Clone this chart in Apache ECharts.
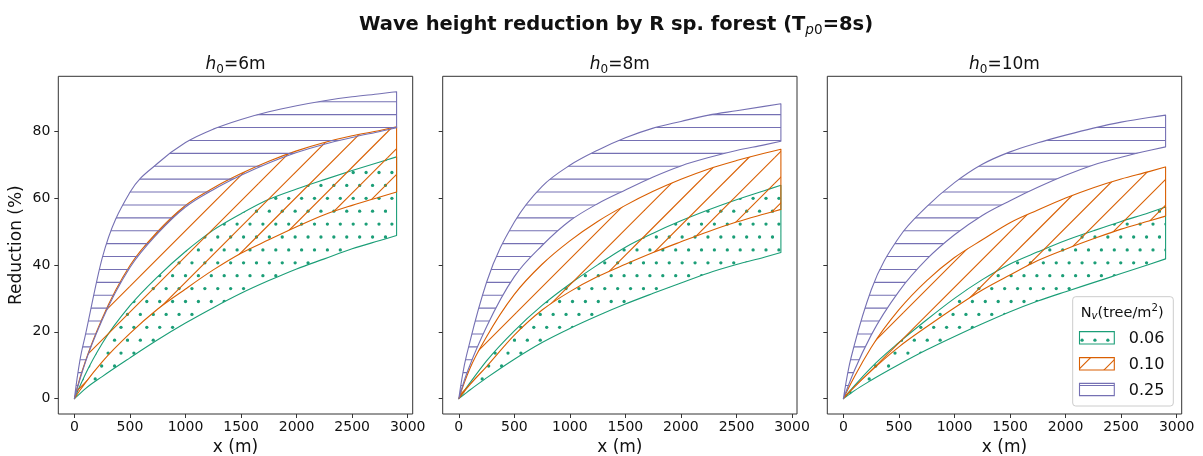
<!DOCTYPE html>
<html>
<head>
<meta charset="utf-8">
<script src="https://cdn.jsdelivr.net/npm/echarts@6/dist/echarts.min.js"></script>
<style>
  html, body { margin: 0; padding: 0; background: #ffffff; }
  #chart { width: 1203px; height: 456px; }
</style>
</head>
<body>
<div id="chart"></div>
<script>
// Distance into the forest (m) at which every curve is sampled
const xPositions = [0, 50, 100, 250, 500, 750, 1000, 1250, 1500, 1750, 2000, 2250, 2500, 2750, 2900];

// Tick labels
const xTicks = [0, 500, 1000, 1500, 2000, 2500, 3000];
const yTicks = [0, 20, 40, 60, 80];

// Legend entries (tree density, tree/m2) and panel water depths (m)
const densities = ['0.06', '0.10', '0.25'];
const depths = ['6', '8', '10'];

// Reduction (%) envelopes, h0 = 6 m
const h6_nv006_low = [0, 1.5, 3.0, 6.6, 12.2, 17.6, 22.6, 27.2, 31.5, 35.3, 38.8, 41.8, 44.8, 47.3, 48.8];
const h6_nv006_up  = [0, 3.8, 7.4, 16.5, 27.8, 36.5, 44.0, 50.4, 55.3, 59.6, 62.7, 65.5, 68.2, 70.8, 72.3];
const h6_nv010_low = [0, 2.5, 4.8, 11.0, 19.5, 26.8, 32.8, 38.5, 43.5, 47.5, 51.4, 55.0, 57.8, 60.3, 61.8];
const h6_nv010_up  = [0, 6.2, 11.3, 24.0, 39.8, 50.0, 57.8, 63.0, 67.3, 71.0, 74.1, 76.6, 78.6, 80.2, 81.3];
const h6_nv025_low = [0, 5.8, 11.0, 23.5, 39.2, 49.4, 57.3, 62.5, 66.8, 70.5, 73.6, 76.1, 78.1, 79.9, 81.0];
const h6_nv025_up  = [0, 11.5, 19.2, 42.0, 61.7, 70.4, 76.6, 80.6, 83.5, 85.8, 87.6, 89.1, 90.3, 91.2, 91.8];

// Reduction (%) envelopes, h0 = 8 m
const h8_nv006_low = [0, 1.3, 2.6, 6.2, 11.8, 16.8, 21.0, 24.8, 28.3, 31.5, 34.6, 37.6, 40.1, 42.3, 43.7];
const h8_nv006_up  = [0, 2.4, 4.7, 11.3, 20.3, 27.9, 34.3, 40.0, 45.3, 49.5, 53.2, 56.5, 59.5, 62.2, 63.8];
const h8_nv010_low = [0, 2.2, 4.2, 9.6, 19.0, 26.5, 32.0, 36.5, 40.2, 43.7, 46.9, 50.0, 52.8, 55.2, 56.6];
const h8_nv010_up  = [0, 4.8, 9.0, 18.5, 31.2, 40.2, 47.2, 53.0, 57.8, 62.0, 65.6, 68.7, 71.2, 73.4, 74.6];
const h8_nv025_low = [0, 5.5, 10.0, 21.5, 36.5, 45.8, 53.2, 58.3, 62.4, 66.3, 69.6, 72.1, 74.2, 75.9, 77.0];
const h8_nv025_up  = [0, 10.0, 17.0, 34.8, 52.8, 63.5, 69.8, 74.3, 78.0, 80.9, 82.9, 84.8, 86.1, 87.4, 88.2];

// Reduction (%) envelopes, h0 = 10 m
const h10_nv006_low = [0, 1.2, 2.4, 5.5, 10.2, 14.6, 18.6, 22.4, 26.0, 29.2, 32.0, 34.7, 37.4, 40.1, 41.8];
const h10_nv006_up  = [0, 2.0, 3.9, 9.3, 16.8, 23.6, 30.0, 35.6, 40.3, 43.9, 47.3, 50.2, 53.0, 55.6, 57.3];
const h10_nv010_low = [0, 1.8, 3.5, 8.3, 15.5, 21.5, 27.2, 32.5, 37.0, 41.3, 44.7, 47.8, 50.7, 53.1, 54.6];
const h10_nv010_up  = [0, 3.4, 6.6, 15.3, 26.6, 35.3, 42.2, 47.5, 52.6, 56.4, 60.0, 63.1, 65.7, 67.9, 69.3];
const h10_nv025_low = [0, 4.4, 8.5, 19.0, 32.1, 41.7, 49.0, 54.8, 59.2, 63.2, 66.8, 69.9, 72.2, 74.2, 75.3];
const h10_nv025_up  = [0, 9.5, 16.2, 32.5, 48.2, 57.4, 64.6, 70.1, 73.8, 76.5, 78.8, 80.9, 82.7, 84.1, 84.8];

const panels = [
  [[h6_nv006_low, h6_nv006_up], [h6_nv010_low, h6_nv010_up], [h6_nv025_low, h6_nv025_up]],
  [[h8_nv006_low, h8_nv006_up], [h8_nv010_low, h8_nv010_up], [h8_nv025_low, h8_nv025_up]],
  [[h10_nv006_low, h10_nv006_up], [h10_nv010_low, h10_nv010_up], [h10_nv025_low, h10_nv025_up]]
];

// ---- styling ----
const FONT = 'DejaVu Sans';
const TEXT = '#111111';
const SPINE = '#333333';
const bandColors = ['#1b9e77', '#d95f02', '#7570b3'];
const hatchKinds = ['dots', 'diag', 'horiz'];

// Hatch textures: one 129px tile holds 10 repeats of a 12.9px hatch step,
// so the pattern stays continuous across all panels.
function makeHatch(kind, color) {
  const S = 129, step = 12.9;
  const cv = document.createElement('canvas');
  cv.width = S; cv.height = S;
  const g = cv.getContext('2d');
  g.strokeStyle = color;
  g.fillStyle = color;
  g.lineWidth = 1.1;
  if (kind === 'dots') {
    for (let j = 0; j < 10; j++) {
      const y = 4.8 + step * j;
      const x0 = (j % 2 === 1) ? 4.9 : 11.35;
      for (let i = 0; i < 10; i++) {
        g.beginPath();
        g.arc(x0 + step * i, y, 1.65, 0, Math.PI * 2);
        g.fill();
      }
    }
  } else if (kind === 'horiz') {
    for (let k = 0; k < 10; k++) {
      const y = 11.45 + step * k;
      g.beginPath();
      g.moveTo(-2, y); g.lineTo(S + 2, y);
      g.stroke();
    }
  } else {
    const d = 2 * step;
    for (let k = -2; k < 13; k++) {
      const c = 3.4 + d * k;
      g.beginPath();
      g.moveTo(c + 10, -10); g.lineTo(-10, c + 10);
      g.stroke();
    }
  }
  return { image: cv, repeat: 'repeat' };
}
const hatches = bandColors.map((c, i) => makeHatch(hatchKinds[i], c));

// Smooth cubic bezier segments through pixel points (x increasing),
// with three-point (parabolic) tangents at each sample.
function curveSegments(pts) {
  const n = pts.length, dx = [], m = [], t = [];
  for (let i = 0; i < n - 1; i++) {
    dx[i] = pts[i + 1][0] - pts[i][0];
    m[i] = (pts[i + 1][1] - pts[i][1]) / dx[i];
  }
  for (let i = 1; i < n - 1; i++) {
    t[i] = (m[i - 1] * dx[i] + m[i] * dx[i - 1]) / (dx[i - 1] + dx[i]);
  }
  const clampEnd = (v, s) => (s === 0 ? 0 : (v / s < 0 ? 0 : (v / s > 3 ? 3 * s : v)));
  t[0] = clampEnd((m[0] * (2 * dx[0] + dx[1]) - m[1] * dx[0]) / (dx[0] + dx[1]), m[0]);
  const a = dx[n - 3], b = dx[n - 2];
  t[n - 1] = clampEnd((m[n - 2] * (2 * b + a) - m[n - 3] * b) / (a + b), m[n - 2]);
  const segs = [];
  for (let i = 0; i < n - 1; i++) {
    const h = dx[i] / 3;
    segs.push([
      [pts[i][0] + h, pts[i][1] + t[i] * h],
      [pts[i + 1][0] - h, pts[i + 1][1] - t[i + 1] * h]
    ]);
  }
  return segs;
}
const fmt = (p) => p[0].toFixed(2) + ' ' + p[1].toFixed(2);

// Draws one hatched band (upper curve, closing edge, lower curve) from all of its rows.
function renderBand(hatch, color) {
  return function (params, api) {
    if (params.dataIndexInside !== 0) return null;
    const n = params.dataInsideLength;
    const up = [], lo = [];
    for (let i = 0; i < n; i++) {
      const x = api.value(0, i);
      lo.push(api.coord([x, api.value(1, i)]));
      up.push(api.coord([x, api.value(2, i)]));
    }
    const su = curveSegments(up), sl = curveSegments(lo);
    let d = 'M ' + fmt(up[0]);
    for (let i = 0; i < n - 1; i++) d += ' C ' + fmt(su[i][0]) + ' ' + fmt(su[i][1]) + ' ' + fmt(up[i + 1]);
    d += ' L ' + fmt(lo[n - 1]);
    for (let i = n - 2; i >= 0; i--) d += ' C ' + fmt(sl[i][1]) + ' ' + fmt(sl[i][0]) + ' ' + fmt(lo[i]);
    d += ' Z';
    return {
      type: 'path',
      shape: { pathData: d },
      style: { fill: hatch, stroke: color, lineWidth: 1.1, lineJoin: 'round' },
      silent: true
    };
  };
}

// Axes boxes (px)
const boxes = [
  { left: 58.3, width: 354.4 },
  { left: 442.7, width: 354.3 },
  { left: 827.3, width: 354.4 }
];
const boxTop = 76.3, boxHeight = 337.7;

const grid = [], xAxis = [], yAxis = [], series = [];

boxes.forEach((b, pi) => {
  grid.push({
    left: b.left, top: boxTop, width: b.width, height: boxHeight,
    show: true, borderColor: SPINE, borderWidth: 1, backgroundColor: 'transparent',
    containLabel: false, outerBoundsMode: 'none'
  });
  xAxis.push({
    gridIndex: pi, type: 'value', min: -145, max: 3045,
    axisLine: { show: false, onZero: false },
    splitLine: { show: false },
    axisTick: { show: true, length: 4, lineStyle: { color: SPINE, width: 1 }, customValues: xTicks },
    axisLabel: {
      customValues: xTicks, fontSize: 14, fontFamily: FONT, color: TEXT, margin: 6,
      formatter: (v) => String(v)
    },
    name: 'x (m)', nameLocation: 'middle', nameGap: 24,
    nameTextStyle: { fontSize: 17, fontFamily: FONT, color: TEXT }
  });
  yAxis.push({
    gridIndex: pi, type: 'value', min: -4.59, max: 96.4,
    axisLine: { show: false, onZero: false },
    splitLine: { show: false },
    axisTick: { show: true, length: 4, lineStyle: { color: SPINE, width: 1 }, customValues: yTicks },
    axisLabel: {
      show: pi === 0, customValues: yTicks, fontSize: 14, fontFamily: FONT, color: TEXT, margin: 8,
      formatter: (v) => String(v)
    },
    name: pi === 0 ? 'Reduction (%)' : '', nameLocation: 'middle', nameGap: 33, nameRotate: 90,
    nameTextStyle: { fontSize: 17, fontFamily: FONT, color: TEXT }
  });

  panels[pi].forEach(([lo, hi], bi) => {
    series.push({
      type: 'custom',
      name: densities[bi],
      xAxisIndex: pi, yAxisIndex: pi,
      silent: true, clip: true, z: 2 + bi,
      encode: { x: 0, y: [1, 2] },
      data: xPositions.map((x, i) => [x, lo[i], hi[i]]),
      renderItem: renderBand(hatches[bi], bandColors[bi])
    });
  });
});

// ---- titles and legend ----
const subStyle = (size, italic, pad) => ({
  fontSize: size, fontFamily: FONT, fontStyle: italic ? 'italic' : 'normal',
  fontWeight: 'normal', fill: TEXT, padding: pad
});

const graphics = [];
graphics.push({
  type: 'text', silent: true,
  style: {
    x: 616, y: 25, align: 'center', verticalAlign: 'middle',
    text: 'Wave height reduction by R sp. forest (T{si|p}{s|0}=8s)',
    fontSize: 19.5, fontWeight: 'bold', fontFamily: FONT, fill: TEXT,
    rich: {
      si: subStyle(13.6, true, [10, 0, 0, 0]),
      s: subStyle(13.6, false, [10, 0, 0, 0])
    }
  }
});
boxes.forEach((b, pi) => {
  graphics.push({
    type: 'text', silent: true,
    style: {
      x: b.left + b.width / 2, y: 65, align: 'center', verticalAlign: 'middle',
      text: '{i|h}{s|0}=' + depths[pi] + 'm',
      fontSize: 17, fontFamily: FONT, fill: TEXT,
      rich: {
        i: subStyle(17, true, [0, 0, 0, 0]),
        s: subStyle(12, false, [9, 0, 0, 0])
      }
    }
  });
});

// legend frame
graphics.push({
  type: 'rect', silent: true,
  shape: { x: 1072.7, y: 296.7, width: 100.6, height: 109.3, r: 3 },
  style: { fill: 'rgba(255,255,255,0.8)', stroke: '#cccccc', lineWidth: 1 }
});
graphics.push({
  type: 'text', silent: true,
  style: {
    x: 1080.7, y: 313, align: 'left', verticalAlign: 'middle',
    text: 'N{si|v}(tree/m{sup|2})',
    fontSize: 14.5, fontFamily: FONT, fill: TEXT,
    rich: {
      si: subStyle(10.2, true, [7, 0, 0, 0]),
      sup: subStyle(10.2, false, [0, 0, 10, 0])
    }
  }
});
const legendRows = [337.8, 363.8, 389.5];
densities.forEach((d, bi) => {
  const cy = legendRows[bi];
  graphics.push({
    type: 'rect', silent: true,
    shape: { x: 1079.5, y: cy - 6.15, width: 34.8, height: 12.3 },
    style: { fill: hatches[bi], stroke: bandColors[bi], lineWidth: 1.1 }
  });
  graphics.push({
    type: 'text', silent: true,
    style: {
      x: 1128.7, y: cy + 1.2, align: 'left', verticalAlign: 'middle',
      text: d, fontSize: 16, fontFamily: FONT, fill: TEXT
    }
  });
});

const chart = echarts.init(document.getElementById('chart'), null, { renderer: 'canvas' });
chart.setOption({
  animation: false,
  backgroundColor: '#ffffff',
  grid: grid,
  xAxis: xAxis,
  yAxis: yAxis,
  series: series,
  graphic: graphics
});
</script>
</body>
</html>
